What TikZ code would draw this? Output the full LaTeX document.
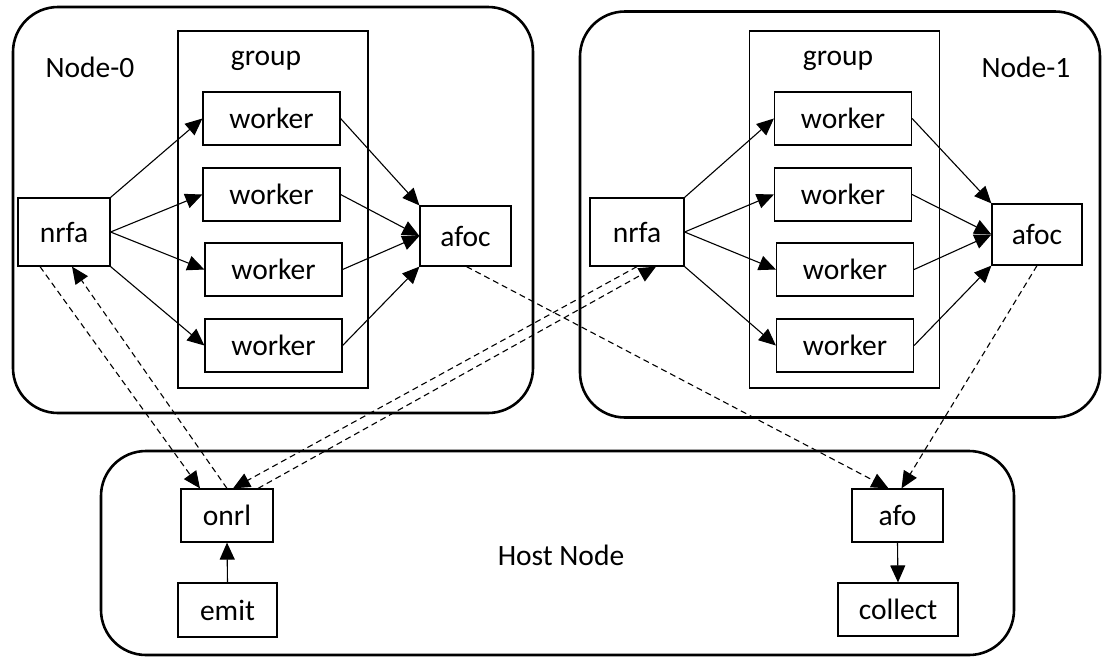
\documentclass[tikz,border=0pt]{standalone}
\usepackage{fontspec}
\setmainfont{Carlito}
\usetikzlibrary{arrows.meta}

\tikzset{
  maquina/.style={draw, line width=2.6pt, rounded corners=45pt, minimum width=520pt, minimum height=406pt},
  grupo/.style={draw, line width=1.2pt, minimum width=190pt, minimum height=357pt},
  caixa/.style={draw, line width=1.2pt, inner sep=0pt, minimum height=53pt},
  worker/.style={caixa, minimum width=137pt},
  seta/.style={line width=1.1pt, -{Triangle[length=17pt, width=15pt]}},
  tracejada/.style={seta, dash pattern=on 6pt off 4pt}
}

\begin{document}
\begin{tikzpicture}[x=1pt, y=-1pt, font=\fontsize{29.5}{34}\selectfont]
    \useasboundingbox (0,0) rectangle (1104,657);
    % maquinas e grupos
    \node[maquina] (N0) at (273,210) {};
    \node[maquina] (N1) at (840,214.5) {};
    \node[maquina, minimum width=913pt, minimum height=204pt] (H) at (557.5,553) {};
    \node[grupo] (G0) at (273,209.5) {};
    \node[grupo] (G1) at (844.5,209.5) {};
    % rotulos
    \node (lN0) at (90,67) {Node-0};
    \node (lN1) at (1026,67) {Node-1};
    \node (lG0) at (266,61) {group};
    \node (lG1) at (838,61) {group};
    \node (lH) at (561,555) {Host Node};
    % Node-0
    \node[caixa, minimum width=92pt, minimum height=68pt] (nrfa0) at (64,232) {nrfa};
    \node[worker] (w01) at (271.5,118.5) {worker};
    \node[worker] (w02) at (271.5,194.5) {worker};
    \node[worker] (w03) at (273.5,269.5) {worker};
    \node[worker] (w04) at (273.5,345.5) {worker};
    \node[caixa, minimum width=91pt, minimum height=60pt] (afoc0) at (465.5,236) {afoc};
    % Node-1
    \node[caixa, minimum width=94pt, minimum height=68pt] (nrfa1) at (637,232) {nrfa};
    \node[worker] (w11) at (843,118.5) {worker};
    \node[worker] (w12) at (843,194.5) {worker};
    \node[worker] (w13) at (845,269.5) {worker};
    \node[worker] (w14) at (845,345.5) {worker};
    \node[caixa, minimum width=90pt, minimum height=61pt] (afoc1) at (1037,234.5) {afoc};
    % Host Node
    \node[caixa, minimum width=92pt] (onrl) at (227,515.5) {onrl};
    \node[caixa, minimum width=99pt, minimum height=54pt] (emit) at (227.5,610) {emit};
    \node[caixa, minimum width=91pt] (afo) at (897.5,515.5) {afo};
    \node[caixa, minimum width=120pt] (collect) at (898,609.5) {collect};
    % setas dentro do Node-0
    \draw[seta] (nrfa0.north east) -- (w01.west);
    \draw[seta] (nrfa0.east) -- (w02.west);
    \draw[seta] (nrfa0.east) -- (w03.west);
    \draw[seta] (nrfa0.south east) -- (w04.west);
    \draw[seta] (w01.east) -- (afoc0.north west);
    \draw[seta] (w02.east) -- (afoc0.west);
    \draw[seta] (w03.east) -- (afoc0.west);
    \draw[seta] (w04.east) -- (afoc0.south west);
    % setas dentro do Node-1
    \draw[seta] (nrfa1.north east) -- (w11.west);
    \draw[seta] (nrfa1.east) -- (w12.west);
    \draw[seta] (nrfa1.east) -- (w13.west);
    \draw[seta] (nrfa1.south east) -- (w14.west);
    \draw[seta] (w11.east) -- (afoc1.north west);
    \draw[seta] (w12.east) -- (afoc1.west);
    \draw[seta] (w13.east) -- (afoc1.west);
    \draw[seta] (w14.east) -- (afoc1.south west);
    % setas do Host Node
    \draw[seta] (emit.north) -- (onrl.south);
    \draw[seta] (afo.south) -- (collect.north);
    % ligacoes tracejadas
    \draw[tracejada] ([xshift=-24pt]nrfa0.south) -- ([xshift=-27pt]onrl.north);
    \draw[tracejada] (onrl.north) -- ([xshift=8pt]nrfa0.south);
    \draw[tracejada] (nrfa1.south) -- ([xshift=6pt]onrl.north);
    \draw[tracejada] ([xshift=31pt]onrl.north) -- ([xshift=19pt]nrfa1.south);
    \draw[tracejada] ([xshift=1pt]afoc0.south) -- ([xshift=-9pt]afo.north);
    \draw[tracejada] (afoc1.south) -- ([xshift=4pt]afo.north);
  \end{tikzpicture}
\end{document}
